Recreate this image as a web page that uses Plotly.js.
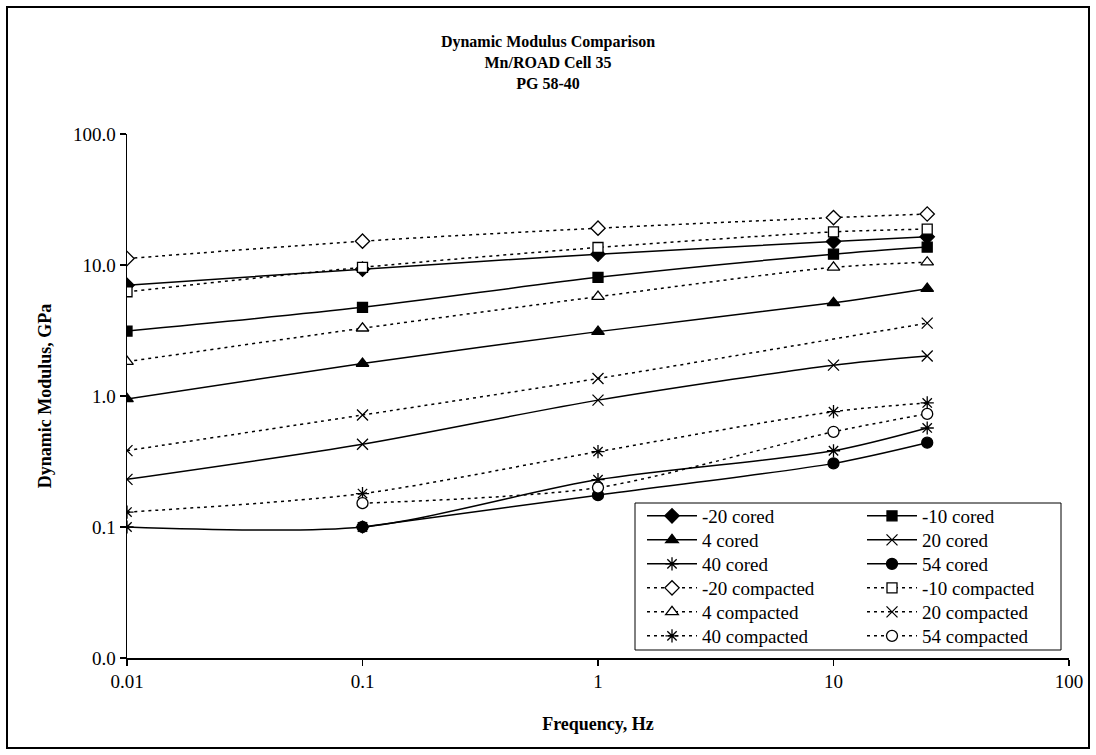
<!DOCTYPE html>
<html>
<head>
<meta charset="utf-8">
<script src="https://cdn.plot.ly/plotly-3.0.1.min.js"></script>
<style>
  html, body { margin: 0; padding: 0; background: #ffffff; }
  #chart { width: 1096px; height: 755px; }
</style>
</head>
<body>
<div id="chart"></div>
<script>
// Test frequencies, Hz
const frequency = [0.01, 0.1, 1, 10, 25];

// Dynamic modulus, GPa — field cores
const cored_m20 = [7.0, 9.3, 12.1, 15.1, 16.4];
const cored_m10 = [3.13, 4.75, 8.05, 12.1, 13.7];
const cored_4   = [0.95, 1.77, 3.1, 5.15, 6.6];
const cored_20  = [0.231, 0.428, 0.93, 1.72, 2.02];
const cored_40  = [0.100, 0.100, 0.23, 0.382, 0.57];
const cored_54  = [null, 0.100, 0.175, 0.306, 0.44];

// Dynamic modulus, GPa — laboratory compacted
const comp_m20 = [11.2, 15.2, 19.1, 23.0, 24.5];
const comp_m10 = [6.25, 9.6, 13.6, 17.9, 18.8];
const comp_4   = [1.83, 3.29, 5.73, 9.6, 10.5];
const comp_20  = [0.383, 0.716, 1.36, null, 3.6];
const comp_40  = [0.13, 0.18, 0.376, 0.759, 0.885];
const comp_54  = [null, 0.152, 0.2, 0.533, 0.73];

// Axis tick labels
const xTickVals = [0.01, 0.1, 1, 10, 100];
const xTickText = ['0.01', '0.1', '1', '10', '100'];
const yTickVals = [0.01, 0.1, 1, 10, 100];
const yTickText = ['0.0', '0.1', '1.0', '10.0', '100.0'];

const FONT = 'Liberation Serif, Times New Roman, serif';

// Figure geometry (pixels)
const W = 1096, H = 755;
const M = { l: 127, r: 27, t: 134, b: 97, autoexpand: false };
const PW = W - M.l - M.r, PH = H - M.t - M.b;
const px = x => (x - M.l) / PW;          // pixel -> paper x
const py = y => (H - M.b - y) / PH;      // pixel -> paper y

// symbols drawn as strokes only take their colour from marker.color
const strokeOnly = s => s.indexOf('-open') > 0;

function series(name, y, symbol, open, dashed, legendId) {
  return {
    type: 'scatter',
    mode: 'lines+markers',
    name: name,
    x: frequency,
    y: y,
    connectgaps: true,
    legend: legendId,
    line: { color: '#000000', width: 1.5, shape: 'spline', smoothing: 0.8,
            dash: dashed ? '3px,4px' : 'solid' },
    marker: {
      symbol: symbol,
      size: strokeOnly(symbol) ? 11 : (symbol === 'square' ? 10 : 11),
      color: (open && !strokeOnly(symbol)) ? '#ffffff' : '#000000',
      line: { color: '#000000', width: 1.3 }
    }
  };
}

// legend rows, two entries per row
const traces = [
  series('-20 cored', cored_m20, 'diamond', false, false, 'legend'),
  series('-10 cored', cored_m10, 'square', false, false, 'legend'),
  series('4 cored', cored_4, 'triangle-up', false, false, 'legend2'),
  series('20 cored', cored_20, 'x-thin-open', false, false, 'legend2'),
  series('40 cored', cored_40, 'asterisk-open', false, false, 'legend3'),
  series('54 cored', cored_54, 'circle', false, false, 'legend3'),
  series('-20 compacted', comp_m20, 'diamond', true, true, 'legend4'),
  series('-10 compacted', comp_m10, 'square', true, true, 'legend4'),
  series('4 compacted', comp_4, 'triangle-up', true, true, 'legend5'),
  series('20 compacted', comp_20, 'x-thin-open', true, true, 'legend5'),
  series('40 compacted', comp_40, 'asterisk-open', true, true, 'legend6'),
  series('54 compacted', comp_54, 'circle', true, true, 'legend6')
];

function legendRow(centerY) {
  return {
    orientation: 'h',
    bgcolor: 'rgba(0,0,0,0)',
    borderwidth: 0,
    font: { family: FONT, size: 19, color: '#000000' },
    itemwidth: 50,
    entrywidth: 155,
    entrywidthmode: 'pixels',
    tracegroupgap: 0,
    x: px(642), xanchor: 'left',
    y: py(centerY), yanchor: 'middle',
    itemclick: false,
    itemdoubleclick: false
  };
}

const layout = {
  width: W,
  height: H,
  margin: M,
  paper_bgcolor: '#ffffff',
  plot_bgcolor: '#ffffff',
  showlegend: true,
  font: { family: FONT, size: 19, color: '#000000' },
  title: {
    text: '<b>Dynamic Modulus Comparison<br>Mn/ROAD Cell 35<br>PG 58-40</b>',
    font: { family: FONT, size: 16, color: '#000000' },
    x: 0.5, xref: 'container', xanchor: 'center',
    y: 1 - 47 / H, yref: 'container', yanchor: 'top'
  },
  xaxis: {
    type: 'log',
    range: [-2, 2],
    tickvals: xTickVals,
    ticktext: xTickText,
    ticks: 'outside', ticklen: 6, tickwidth: 1.2, tickcolor: '#000000',
    showline: true, linecolor: '#000000', linewidth: 1.5,
    showgrid: false, zeroline: false,
    tickfont: { family: FONT, size: 19, color: '#000000' },
    title: { text: '<b>Frequency, Hz</b>', font: { family: FONT, size: 18 }, standoff: 26 }
  },
  yaxis: {
    type: 'log',
    range: [-2, 2],
    tickvals: yTickVals,
    ticktext: yTickText,
    ticks: 'outside', ticklen: 6, tickwidth: 1.2, tickcolor: '#000000',
    showline: true, linecolor: '#000000', linewidth: 1.5,
    showgrid: false, zeroline: false,
    tickfont: { family: FONT, size: 19, color: '#000000' },
    title: { text: '<b>Dynamic Modulus, GPa</b>', font: { family: FONT, size: 18 }, standoff: 16 }
  },
  legend: legendRow(516),
  legend2: legendRow(540),
  legend3: legendRow(564),
  legend4: legendRow(588),
  legend5: legendRow(612),
  legend6: legendRow(636),
  shapes: [
    // legend frame
    { type: 'rect', xref: 'paper', yref: 'paper', layer: 'above',
      x0: px(635), x1: px(1061), y0: py(503), y1: py(650),
      line: { color: '#000000', width: 1 }, fillcolor: 'rgba(0,0,0,0)' },
    // chart-area frame
    { type: 'rect', xref: 'paper', yref: 'paper', layer: 'above',
      x0: px(7), x1: px(1089), y0: py(7), y1: py(748),
      line: { color: '#000000', width: 2 }, fillcolor: 'rgba(0,0,0,0)' }
  ]
};

Plotly.newPlot('chart', traces, layout, { displayModeBar: false, staticPlot: true });
</script>
</body>
</html>
